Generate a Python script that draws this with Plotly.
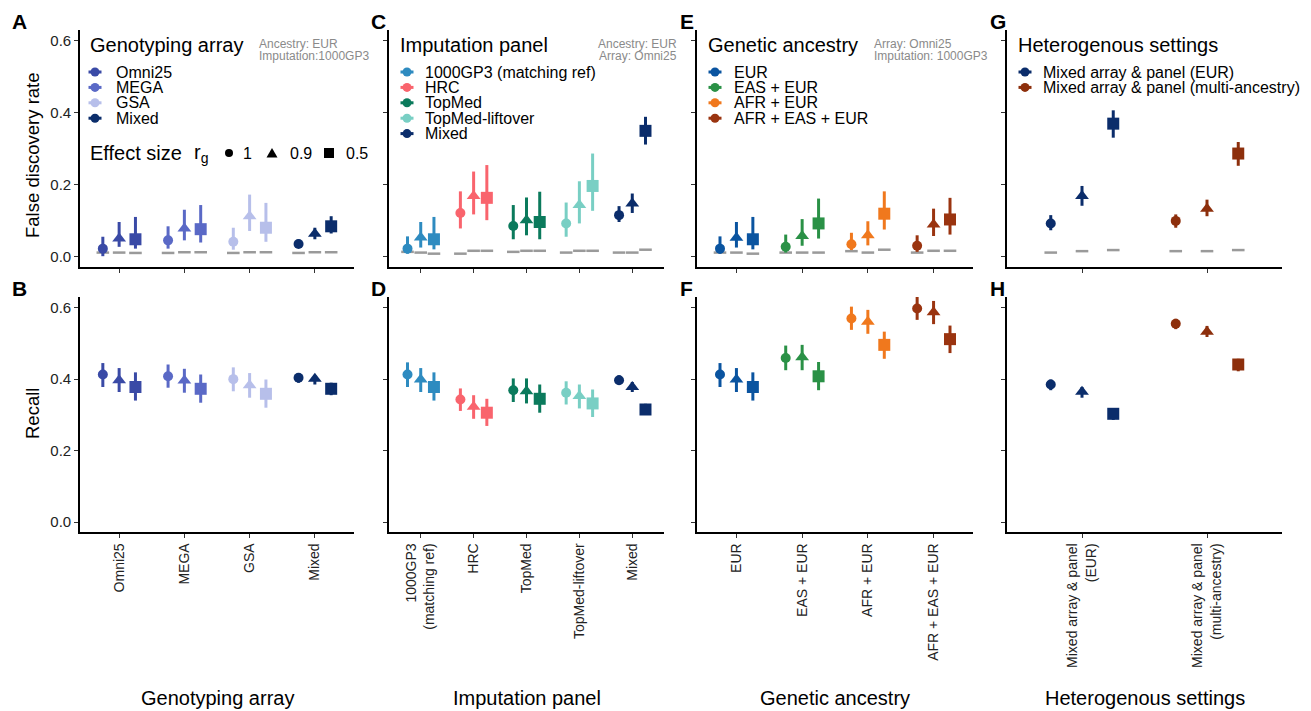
import plotly.graph_objects as go

W, H = 1311, 711
OFF = 8  # page body margin of the html page
FW, FH = W - OFF, H - OFF

# ---------------- data ----------------
effect_sizes = ["1", "0.9", "0.5"]
effect_symbols = ["circle", "triangle-up", "square"]
effect_msize = [10, 12, 12]
dodge = [-0.25, 0.0, 0.25]

# Panel A/B : genotyping array
array_cats = ["Omni25", "MEGA", "GSA", "Mixed"]
array_colors = ["#3a4aa6", "#5a69c6", "#b7bfea", "#0b2d6b"]
array_fdr = [[0.023, 0.051, 0.049], [0.046, 0.079, 0.077], [0.042, 0.113, 0.081], [0.036, 0.064, 0.085]]
array_fdr_lo = [[0.002, 0.028, 0.023], [0.023, 0.046, 0.040], [0.020, 0.072, 0.042], [0.026, 0.049, 0.065]]
array_fdr_hi = [[0.056, 0.097, 0.111], [0.085, 0.131, 0.144], [0.081, 0.173, 0.150], [0.048, 0.081, 0.113]]
array_null = [[0.012, 0.012, 0.011], [0.011, 0.013, 0.013], [0.011, 0.013, 0.013], [0.011, 0.013, 0.013]]
array_rec = [[0.413, 0.397, 0.378], [0.408, 0.396, 0.373], [0.400, 0.383, 0.359], [0.404, 0.401, 0.373]]
array_rec_lo = [[0.378, 0.364, 0.340], [0.376, 0.362, 0.334], [0.366, 0.348, 0.320], [0.390, 0.385, 0.355]]
array_rec_hi = [[0.445, 0.431, 0.419], [0.441, 0.429, 0.413], [0.433, 0.417, 0.399], [0.415, 0.411, 0.390]]

# Panel C/D : imputation panel
panel_cats = ["1000GP3<br>(matching ref)", "HRC", "TopMed", "TopMed-liftover", "Mixed"]
panel_legend = ["1000GP3 (matching ref)", "HRC", "TopMed", "TopMed-liftover", "Mixed"]
panel_colors = ["#2e8bc0", "#f9646d", "#0b7a5c", "#79cfc4", "#0b2d6b"]
panel_fdr = [[0.023, 0.054, 0.049], [0.122, 0.169, 0.164], [0.086, 0.102, 0.097], [0.093, 0.144, 0.197], [0.116, 0.148, 0.350]]
panel_fdr_lo = [[0.009, 0.026, 0.021], [0.079, 0.118, 0.102], [0.049, 0.060, 0.049], [0.056, 0.093, 0.128], [0.097, 0.122, 0.312]]
panel_fdr_hi = [[0.057, 0.097, 0.111], [0.182, 0.237, 0.255], [0.144, 0.165, 0.181], [0.151, 0.210, 0.287], [0.141, 0.176, 0.389]]
panel_null = [[0.014, 0.012, 0.009], [0.009, 0.017, 0.017], [0.014, 0.017, 0.017], [0.012, 0.017, 0.017], [0.012, 0.012, 0.020]]
panel_rec = [[0.413, 0.399, 0.378], [0.343, 0.323, 0.306], [0.369, 0.366, 0.345], [0.362, 0.353, 0.332], [0.397, 0.378, 0.315]]
panel_rec_lo = [[0.378, 0.364, 0.340], [0.311, 0.289, 0.269], [0.336, 0.332, 0.306], [0.329, 0.318, 0.294], [0.385, 0.364, 0.300]]
panel_rec_hi = [[0.447, 0.431, 0.419], [0.374, 0.355, 0.345], [0.402, 0.402, 0.385], [0.394, 0.385, 0.371], [0.411, 0.392, 0.331]]

# Panel E/F : genetic ancestry
anc_cats = ["EUR", "EAS + EUR", "AFR + EUR", "AFR + EAS + EUR"]
anc_colors = ["#0a54a0", "#2a9146", "#f0781d", "#9a3410"]
anc_fdr = [[0.023, 0.053, 0.049], [0.028, 0.058, 0.093], [0.035, 0.060, 0.120], [0.031, 0.090, 0.104]]
anc_fdr_lo = [[0.009, 0.026, 0.021], [0.012, 0.031, 0.051], [0.019, 0.032, 0.076], [0.014, 0.058, 0.062]]
anc_fdr_hi = [[0.057, 0.097, 0.111], [0.062, 0.105, 0.162], [0.067, 0.099, 0.182], [0.060, 0.134, 0.164]]
anc_null = [[0.012, 0.012, 0.009], [0.012, 0.012, 0.012], [0.016, 0.012, 0.020], [0.012, 0.017, 0.017]]
anc_rec = [[0.413, 0.399, 0.378], [0.459, 0.461, 0.408], [0.570, 0.561, 0.496], [0.598, 0.587, 0.512]]
anc_rec_lo = [[0.378, 0.364, 0.340], [0.425, 0.425, 0.369], [0.538, 0.527, 0.457], [0.566, 0.554, 0.473]]
anc_rec_hi = [[0.445, 0.431, 0.419], [0.494, 0.496, 0.448], [0.603, 0.594, 0.533], [0.631, 0.619, 0.550]]

# Panel G/H : heterogenous settings
het_cats = ["Mixed array & panel<br>(EUR)", "Mixed array & panel<br>(multi-ancestry)"]
het_legend = ["Mixed array & panel (EUR)", "Mixed array & panel (multi-ancestry)"]
het_colors = ["#0b2d6b", "#8d2f0c"]
het_fdr = [[0.093, 0.169, 0.370], [0.100, 0.134, 0.287]]
het_fdr_lo = [[0.074, 0.142, 0.331], [0.081, 0.113, 0.253]]
het_fdr_hi = [[0.116, 0.197, 0.407], [0.118, 0.159, 0.319]]
het_null = [[0.012, 0.016, 0.019], [0.016, 0.016, 0.019]]
het_rec = [[0.385, 0.365, 0.303], [0.555, 0.533, 0.441]]
het_rec_lo = [[0.369, 0.348, 0.286], [0.540, 0.518, 0.422]]
het_rec_hi = [[0.399, 0.378, 0.318], [0.569, 0.549, 0.457]]

y_ticks = [0.0, 0.2, 0.4, 0.6]

FONT = "Liberation Sans, Arial, Helvetica, sans-serif"
NULL_COLOR = "#9a9a9a"

# ---------------- layout geometry (reference-page pixels) ----------------
col_px = [(80, 354), (389, 664), (697, 973), (1007, 1282)]
row_px = [(30, 267), (297, 532)]


def fx(px):
    return (px - OFF) / FW


def fy(py):
    return 1 - (py - OFF) / FH


fig = go.Figure()


def add_panel(k, cats, colors, vals, lo, hi, null=None):
    xa = "x" if k == 1 else f"x{k}"
    ya = "y" if k == 1 else f"y{k}"
    if null is not None:
        nx, ny = [], []
        for i in range(len(cats)):
            for j in range(3):
                nx.append(i + 1 + dodge[j])
                ny.append(null[i][j])
        fig.add_trace(go.Scatter(
            x=nx, y=ny, mode="markers", xaxis=xa, yaxis=ya, showlegend=False,
            marker=dict(symbol="line-ew", size=9, color=NULL_COLOR, opacity=1,
                        line=dict(color=NULL_COLOR, width=2.5)),
            hoverinfo="skip"))
    for i, c in enumerate(cats):
        xs = [i + 1 + d for d in dodge]
        ys = vals[i]
        ep = [hi[i][j] - vals[i][j] for j in range(3)]
        em = [vals[i][j] - lo[i][j] for j in range(3)]
        fig.add_trace(go.Scatter(
            x=xs, y=ys, mode="markers", xaxis=xa, yaxis=ya, showlegend=False,
            marker=dict(symbol=effect_symbols, size=effect_msize, color=colors[i],
                        opacity=1, line=dict(width=0)),
            error_y=dict(type="data", array=ep, arrayminus=em, symmetric=False,
                         thickness=3, width=0, color=colors[i])))


add_panel(1, array_cats, array_colors, array_fdr, array_fdr_lo, array_fdr_hi, array_null)
add_panel(2, panel_cats, panel_colors, panel_fdr, panel_fdr_lo, panel_fdr_hi, panel_null)
add_panel(3, anc_cats, anc_colors, anc_fdr, anc_fdr_lo, anc_fdr_hi, anc_null)
add_panel(4, het_cats, het_colors, het_fdr, het_fdr_lo, het_fdr_hi, het_null)
add_panel(5, array_cats, array_colors, array_rec, array_rec_lo, array_rec_hi)
add_panel(6, panel_cats, panel_colors, panel_rec, panel_rec_lo, panel_rec_hi)
add_panel(7, anc_cats, anc_colors, anc_rec, anc_rec_lo, anc_rec_hi)
add_panel(8, het_cats, het_colors, het_rec, het_rec_lo, het_rec_hi)

cat_sets = [array_cats, panel_cats, anc_cats, het_cats]
layout = {}
for k in range(1, 9):
    r = 0 if k <= 4 else 1
    c = (k - 1) % 4
    cats = cat_sets[c]
    n = len(cats)
    xname = "xaxis" if k == 1 else f"xaxis{k}"
    yname = "yaxis" if k == 1 else f"yaxis{k}"
    xa = "x" if k == 1 else f"x{k}"
    ya = "y" if k == 1 else f"y{k}"
    layout[xname] = dict(
        domain=[fx(col_px[c][0]), fx(col_px[c][1])], anchor=ya,
        range=[0.4, n + 0.6], tickmode="array", tickvals=list(range(1, n + 1)),
        ticktext=cats, showticklabels=(r == 1), tickangle=-90,
        ticks="outside", ticklen=4, tickwidth=1.2, tickcolor="#333",
        showline=True, linecolor="black", linewidth=1.6,
        showgrid=False, zeroline=False,
        tickfont=dict(size=14, color="#222", family=FONT))
    layout[yname] = dict(
        domain=[fy(row_px[r][1]), fy(row_px[r][0])], anchor=xa,
        range=[-0.028, 0.63], tickmode="array", tickvals=y_ticks,
        ticktext=[f"{v:.1f}" for v in y_ticks], showticklabels=(c == 0),
        ticks="outside", ticklen=4, tickwidth=1.2, tickcolor="#333",
        showline=True, linecolor="black", linewidth=1.6,
        showgrid=False, zeroline=False,
        tickfont=dict(size=15, color="#222", family=FONT))

ann = []
shapes = []


def text(px, py, s, size, color="black", anchor="left", bold=False, yanchor="middle", angle=0):
    ann.append(dict(x=fx(px), y=fy(py), xref="paper", yref="paper", text=f"<b>{s}</b>" if bold else s,
                    showarrow=False, xanchor=anchor, yanchor=yanchor, textangle=angle,
                    font=dict(size=size, color=color, family=FONT)))


def key(px, py, color):
    base = dict(xref="paper", yref="paper", xsizemode="pixel", ysizemode="pixel",
                xanchor=fx(px), yanchor=fy(py))
    shapes.append(dict(type="line", x0=-6.5, x1=6.5, y0=0, y1=0,
                       line=dict(color=color, width=3), **base))
    shapes.append(dict(type="circle", x0=-4.5, x1=4.5, y0=-4.5, y1=4.5,
                       fillcolor=color, line=dict(width=0), **base))


# panel letters
for lbl, px, py in [("A", 10, 21), ("C", 369, 21), ("E", 678, 21), ("G", 988, 21),
                    ("B", 10, 288), ("D", 369, 288), ("F", 678, 288), ("H", 988, 288)]:
    text(px, py, lbl, 21, bold=True)

# axis titles
text(32, 155, "False discovery rate", 18.5, anchor="center", angle=-90)
text(32, 414, "Recall", 18.5, anchor="center", angle=-90)
for (x0, x1), t in zip(col_px, ["Genotyping array", "Imputation panel", "Genetic ancestry", "Heterogenous settings"]):
    text((x0 + x1) / 2, 698, t, 20, anchor="center")

# legends
row_step = 15.4
legends = [
    (88, 95, 114, "Genotyping array", array_cats, array_colors),
    (398, 407, 423, "Imputation panel", panel_legend, panel_colors),
    (706, 715, 732, "Genetic ancestry", anc_cats, anc_colors),
    (1016, 1025, 1041, "Heterogenous settings", het_legend, het_colors),
]
for tx, kx, ix, title, items, cols in legends:
    text(tx, 45, title, 20)
    for i, (it, col) in enumerate(zip(items, cols)):
        yy = 72 + i * row_step
        key(kx, yy, col)
        text(ix, yy, it, 16)

GREY = "#8a8a8a"
text(257, 44, "Ancestry: EUR", 12, GREY)
text(257, 56, "Imputation:1000GP3", 12, GREY)
text(679, 44, "Ancestry: EUR", 12, GREY, anchor="right")
text(679, 56, "Array: Omni25", 12, GREY, anchor="right")
text(872, 44, "Array: Omni25", 12, GREY)
text(872, 56, "Imputation: 1000GP3", 12, GREY)

# effect size legend
ey = 153
text(88, ey, "Effect size", 20)
text(192, ey, "r<sub>g</sub>", 20)
sbase = dict(xref="paper", yref="paper", xsizemode="pixel", ysizemode="pixel", yanchor=fy(ey))
shapes.append(dict(type="circle", x0=-4, x1=4, y0=-4, y1=4, fillcolor="black", line=dict(width=0),
                   xanchor=fx(229), **sbase))
shapes.append(dict(type="path", path="M -5.5,-4.5 L 5.5,-4.5 L 0,5 Z", fillcolor="black", line=dict(width=0),
                   xanchor=fx(272), **sbase))
shapes.append(dict(type="rect", x0=-5, x1=5, y0=-5, y1=5, fillcolor="black", line=dict(width=0),
                   xanchor=fx(329), **sbase))
text(241, ey, "1", 16)
text(288, ey, "0.9", 16)
text(344, ey, "0.5", 16)

fig.update_layout(
    width=FW, height=FH, autosize=False,
    margin=dict(l=0, r=0, t=0, b=0),
    paper_bgcolor="white", plot_bgcolor="white",
    font=dict(family=FONT, color="black"),
    showlegend=False,
    annotations=ann, shapes=shapes,
    **layout)

fig.write_html("out.html")
